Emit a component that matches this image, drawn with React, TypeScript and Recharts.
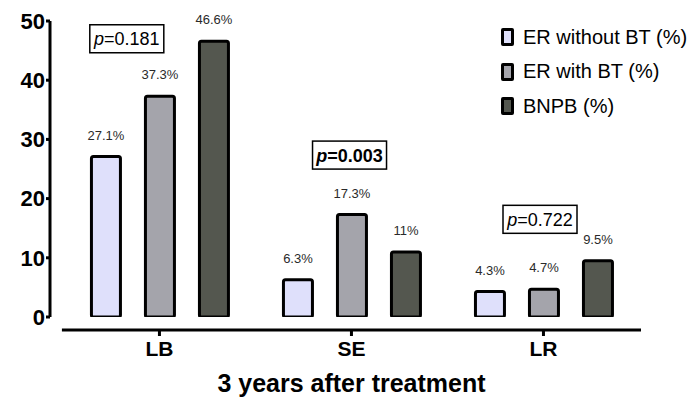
import React from 'react';
import {
  BarChart,
  Bar,
  XAxis,
  YAxis,
  ReferenceLine,
  ReferenceDot,
  Legend,
  LabelList,
  Label,
} from 'recharts';

const FONT = 'Arial, "Liberation Sans", Helvetica, sans-serif';

const categories = ['LB', 'SE', 'LR'];
const erWithoutBT = [27.1, 6.3, 4.3];
const erWithBT = [37.3, 17.3, 4.7];
const bnpb = [46.6, 11, 9.5];
const yTicks = [0, 10, 20, 30, 40, 50];
const seriesNames = ['ER without BT (%)', 'ER with BT (%)', 'BNPB (%)'];
const seriesColors = ['#dfe0fb', '#a4a4ab', '#54574f'];

const pValues = ['0.181', '0.003', '0.722'];
const pBold = [false, true, false];
// annotation anchors in data units (x: category index, y: value)
const pAnchorX = [-0.17, 0.99, 1.982];
const pAnchorY = [47.0, 27.35, 16.5];

const data = categories.map((c, i) => ({
  x: i,
  name: c,
  a: erWithoutBT[i],
  b: erWithBT[i],
  c: bnpb[i],
}));

const XTick = (props: any) => {
  const { x, y, payload } = props;
  return (
    <g>
      <line x1={x} x2={x} y1={y + 13} y2={y + 19} stroke="#000" strokeWidth={3} />
      <text
        x={x}
        y={y + 38.5}
        textAnchor="middle"
        fontSize={21}
        fontWeight="bold"
        fontFamily={FONT}
        fill="#000"
      >
        {categories[payload.value]}
      </text>
    </g>
  );
};

const TitleLabel = (props: any) => {
  const { viewBox } = props;
  const { x, y, width, height } = viewBox;
  return (
    <text
      x={x + width / 2 + 6}
      y={y + height - 12}
      textAnchor="middle"
      fontSize={25}
      fontWeight="bold"
      fontFamily={FONT}
      fill="#000"
    >
      3 years after treatment
    </text>
  );
};

const makePBox = (i: number) => (props: any) => {
  const { cx, cy } = props;
  const w = 74;
  const h = 28;
  return (
    <g>
      <rect x={cx - w / 2} y={cy - h / 2} width={w} height={h} fill="#fff" stroke="#000" strokeWidth={1.5} />
      <text
        x={cx}
        y={cy + 6.5}
        textAnchor="middle"
        fontSize={18}
        fontWeight={pBold[i] ? 'bold' : 'normal'}
        fontFamily={FONT}
        fill="#000"
      >
        <tspan fontStyle="italic">p</tspan>
        <tspan>={pValues[i]}</tspan>
      </text>
    </g>
  );
};

const LegendContent = (props: any) => {
  const payload = [...(props.payload || [])].sort(
    (p: any, q: any) => seriesNames.indexOf(p.value) - seriesNames.indexOf(q.value)
  );
  return (
    <div style={{ fontFamily: FONT }}>
      {payload.map((p: any, i: number) => (
        <div key={i} style={{ display: 'flex', alignItems: 'center', height: 34.5 }}>
          <span
            style={{
              display: 'inline-block',
              width: 7,
              height: 12,
              border: '3px solid #000',
              borderRadius: 2,
              background: p.color,
              marginRight: 9,
            }}
          />
          <span style={{ fontSize: 20, color: '#000', whiteSpace: 'nowrap' }}>{p.value}</span>
        </div>
      ))}
    </div>
  );
};

const fmt = (v: any) => `${v}%`;

export default function App() {
  const keys = ['a', 'b', 'c'];
  return (
    <div style={{ position: 'absolute', left: 0, top: 0, width: 697, height: 404, background: '#fff' }}>
      <BarChart
        width={697}
        height={404}
        data={data}
        margin={{ top: 21, right: 56, left: 0, bottom: 0 }}
        barGap={25}
      >
        <XAxis
          dataKey="x"
          type="number"
          domain={[-0.57, 2.508]}
          ticks={[0, 1, 2]}
          allowDataOverflow
          interval={0}
          height={87}
          axisLine={false}
          tickLine={false}
          tickSize={0}
          tickMargin={0}
          tick={<XTick />}
        >
          <Label content={TitleLabel} />
        </XAxis>
        <YAxis
          domain={[0, 50]}
          ticks={yTicks}
          allowDataOverflow
          width={50}
          axisLine={{ stroke: '#000', strokeWidth: 3 }}
          tickLine={{ stroke: '#000', strokeWidth: 3 }}
          tickSize={4}
          tickMargin={1}
          tick={{ fontSize: 22, fontWeight: 'bold', fill: '#000', fontFamily: FONT }}
        />
        <ReferenceLine
          segment={[
            { x: -0.508, y: -2.2 },
            { x: 2.508, y: -2.2 },
          ]}
          stroke="#000"
          strokeWidth={3}
          ifOverflow="visible"
        />
        {keys.map((k, i) => (
          <Bar
            key={k}
            dataKey={k}
            name={seriesNames[i]}
            fill={seriesColors[i]}
            stroke="#000"
            strokeWidth={3}
            barSize={29}
            radius={2}
            isAnimationActive={false}
          >
            <LabelList
              dataKey={k}
              position="top"
              offset={17}
              formatter={fmt}
              fontSize={13}
              fill="#2a2a2a"
              fontFamily={FONT}
            />
          </Bar>
        ))}
        {pValues.map((_, i) => (
          <ReferenceDot
            key={i}
            x={pAnchorX[i]}
            y={pAnchorY[i]}
            r={0}
            ifOverflow="visible"
            shape={makePBox(i)}
          />
        ))}
        <Legend
          layout="vertical"
          align="center"
          verticalAlign="middle"
          content={<LegendContent />}
          wrapperStyle={{ top: 20, left: 501, width: 196, height: 'auto' }}
        />
      </BarChart>
    </div>
  );
}
